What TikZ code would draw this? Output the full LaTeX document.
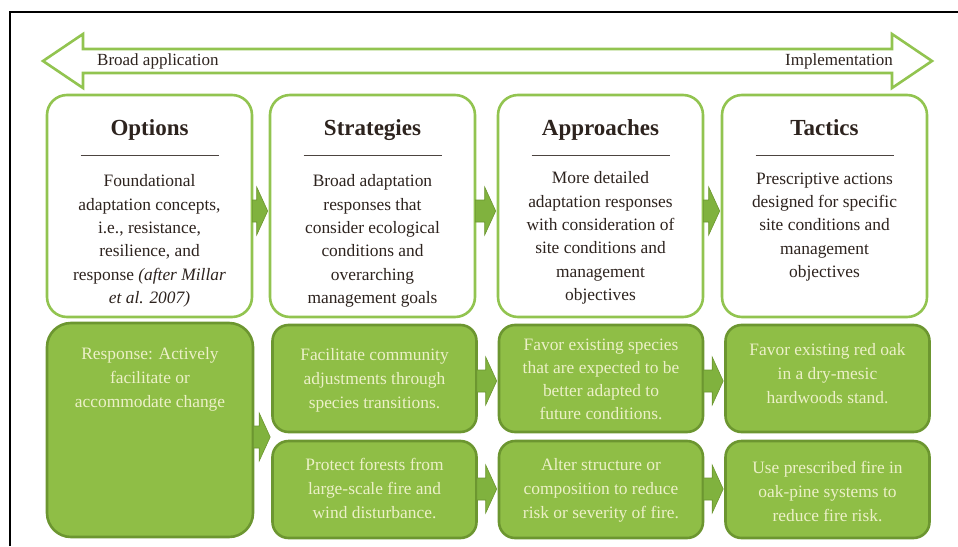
\documentclass[tikz,border=0pt]{standalone}
\usepackage{fontspec}
\setmainfont{Liberation Serif}
\usetikzlibrary{calc}
\definecolor{lgreen}{RGB}{146,196,80}
\definecolor{gfill}{RGB}{143,190,70}
\definecolor{gdark}{RGB}{108,150,48}
\definecolor{txtdark}{RGB}{45,35,30}
\definecolor{txtlight}{RGB}{236,240,200}
\definecolor{arrfill}{RGB}{128,178,62}
\newcommand\flowarrow[3]{%
 \coordinate (fa-s) at (#1.east |- {(0,#3)});
 \coordinate (fa-t) at (#2.west |- {(0,#3)});
 \filldraw[flow] ($(fa-s)+(-1,-11)$) -- ($(fa-t)+(-12,-11)$) -- ($(fa-t)+(-12,-24)$) -- ($(fa-t)+(-1,0)$) -- ($(fa-t)+(-12,24)$) -- ($(fa-t)+(-12,11)$) -- ($(fa-s)+(-1,11)$) -- cycle;
}
\begin{document}
\begin{tikzpicture}[x=1pt,y=-1pt,
 topbox/.style={draw=lgreen, line width=2.6pt, fill=white, rounded corners=20pt, inner sep=0pt, minimum width=205pt, minimum height=222pt},
 botbox/.style={draw=gdark, line width=2.6pt, fill=gfill, rounded corners=16pt, inner sep=0pt, minimum width=204pt},
 ttl/.style={font=\fontsize{23}{26}\selectfont\bfseries, text=txtdark, anchor=base, inner sep=0pt},
 body/.style={font=\fontsize{17.4}{23.4}\selectfont, text=txtdark, align=center, anchor=base, inner sep=0pt},
 lbody/.style={font=\fontsize{17.4}{24}\selectfont, text=txtlight, align=center, anchor=base, inner sep=0pt},
 lbl/.style={font=\fontsize{17}{19}\selectfont, text=txtdark, inner sep=0pt},
 rule/.style={draw=txtdark!85, line width=0.9pt},
 flow/.style={fill=arrfill, draw=gdark, line width=0.6pt},
]
\useasboundingbox (0,0) rectangle (958,546);
% frame
\draw[line width=1.2pt] (10,546) -- (10,12) -- (958,12);
% big double arrow
\draw[line width=2.6pt, draw=lgreen, fill=white, line join=miter] (43,61) -- (83,34) -- (83,49) -- (892,49) -- (892,34) -- (932,61) -- (892,88) -- (892,73) -- (83,73) -- (83,88) -- cycle;
\node[lbl, anchor=base west] (broad) at (97,65) {Broad application};
\node[lbl, anchor=base east] (impl) at (893,65) {Implementation};

% top boxes
\node[topbox] (opt) at (149.5,206) {};
\node[topbox] (str) at (372.5,206) {};
\node[topbox] (app) at (600.5,206) {};
\node[topbox] (tac) at (824.5,206) {};

\foreach \b/\t in {opt/Options, str/Strategies, app/Approaches, tac/Tactics}{
  \node[ttl] (\b-title) at ($(\b.north)+(0,42)$) {\t};
  \draw[rule] ($(\b.north)+(-69,62)$) -- ($(\b.north)+(69,62)$);
}
% body anchors: baseline of last line
\node[body] (opt-body) at ($(opt.north)+(0,210)$) {Foundational\\adaptation concepts,\\i.e., resistance,\\resilience, and\\response \textit{(after Millar}\\\textit{et al. 2007)}};
\node[body] (str-body) at ($(str.north)+(0,210)$) {Broad adaptation\\responses that\\consider ecological\\conditions and\\overarching\\management goals};
\node[body] (app-body) at ($(app.north)+(0,207)$) {More detailed\\adaptation responses\\with consideration of\\site conditions and\\management\\objectives};
\node[body] (tac-body) at ($(tac.north)+(0,184)$) {Prescriptive actions\\designed for specific\\site conditions and\\management\\objectives};

% bottom boxes
\node[botbox, minimum width=206pt, minimum height=214pt, rounded corners=24pt] (resp) at (150,430) {};
\node[botbox, minimum height=107pt] (s1) at (374.5,378.5) {};
\node[botbox, minimum height=97pt] (s2) at (374.5,489.5) {};
\node[botbox, minimum height=107pt] (a1) at (601,378.5) {};
\node[botbox, minimum height=97pt] (a2) at (601,489.5) {};
\node[botbox, minimum height=107pt] (t1) at (827.5,378.5) {};
\node[botbox, minimum height=97pt] (t2) at (827.5,489.5) {};

\node[lbody] (resp-t) at ($(resp.north)+(0,86)$) {Response: Actively\\facilitate or\\accommodate change};
\node[lbody] (s1-t) at ($(s1.north)+(0,85)$) {Facilitate community\\adjustments through\\species transitions.};
\node[lbody] (s2-t) at ($(s2.north)+(0,79)$) {Protect forests from\\large-scale fire and\\wind disturbance.};
\node[lbody, font=\fontsize{17.4}{23}\selectfont] (a1-t) at ($(a1.north)+(0,96)$) {Favor existing species\\that are expected to be\\better adapted to\\future conditions.};
\node[lbody] (a2-t) at ($(a2.north)+(0,79)$) {Alter structure or\\composition to reduce\\risk or severity of fire.};
\node[lbody] (t1-t) at ($(t1.north)+(0,80)$) {Favor existing red oak\\in a dry-mesic\\hardwoods stand.};
\node[lbody] (t2-t) at ($(t2.north)+(0,82)$) {Use prescribed fire in\\oak-pine systems to\\reduce fire risk.};

% flow arrows
\flowarrow{opt}{str}{211}
\flowarrow{str}{app}{211}
\flowarrow{app}{tac}{211}
\flowarrow{resp}{s1}{437}
\flowarrow{s1}{a1}{381}
\flowarrow{s2}{a2}{489}
\flowarrow{a1}{t1}{381}
\flowarrow{a2}{t2}{489}
\end{tikzpicture}
\end{document}
